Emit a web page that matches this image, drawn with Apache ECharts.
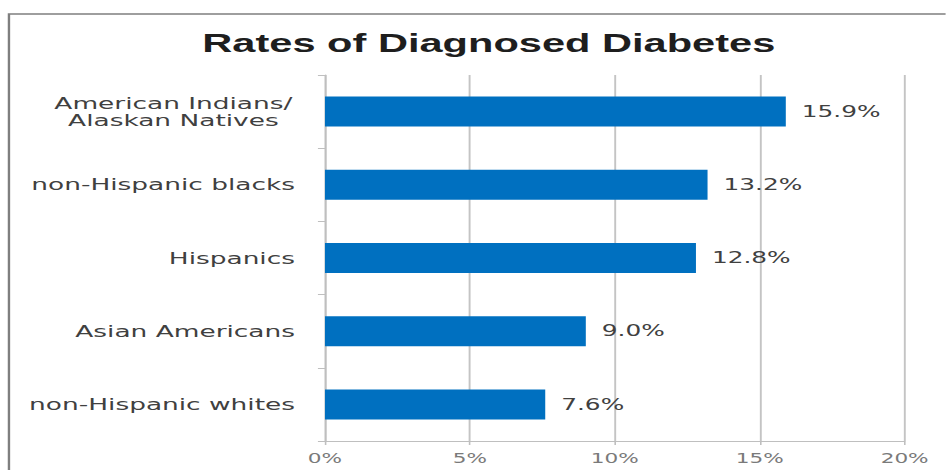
<!DOCTYPE html>
<html>
<head>
<meta charset="utf-8">
<script src="https://cdn.jsdelivr.net/npm/echarts@6/dist/echarts.min.js"></script>
<style>
  html, body { margin: 0; padding: 0; background: #ffffff; overflow: hidden; }
  #wrap { width: 946px; height: 470px; overflow: hidden; position: relative; }
  #chart { width: 591.25px; height: 470px; transform: scaleX(1.6); transform-origin: 0 0; }
</style>
</head>
<body>
<div id="wrap"><div id="chart"></div></div>
<script>
const titleText = 'Rates of Diagnosed Diabetes';
const categories = ['American Indians/\nAlaskan Natives', 'non-Hispanic blacks', 'Hispanics', 'Asian Americans', 'non-Hispanic whites'];
const rates = [15.9, 13.2, 12.8, 9.0, 7.6];
const xMin = 0, xMax = 20, xInterval = 5;

const chart = echarts.init(document.getElementById('chart'), null, { renderer: 'svg' });
chart.setOption({
  backgroundColor: '#ffffff',
  animation: false,
  title: {
    text: titleText,
    left: 300.5,
    textAlign: 'center',
    top: 25,
    textStyle: { fontFamily: 'Liberation Sans', fontWeight: 'bold', fontSize: 26, color: '#1e1e1e' }
  },
  graphic: [{
    type: 'rect',
    shape: { x: 5.6, y: 14, width: 1000, height: 1000 },
    style: { fill: 'none', stroke: '#7f7f7f', lineWidth: 1.5 },
    silent: true
  }],
  grid: { left: 203.1, right: 25.6, top: 75, bottom: 29, containLabel: false },
  xAxis: {
    type: 'value',
    min: xMin, max: xMax, interval: xInterval,
    axisLine: { show: true, lineStyle: { color: '#bfbfbf', width: 1 } },
    axisTick: { show: true, length: 4, lineStyle: { color: '#bfbfbf' } },
    splitLine: { show: true, lineStyle: { color: '#c4c4c4', width: 1.2 } },
    axisLabel: {
      formatter: v => v + '%',
      fontFamily: 'DejaVu Sans', fontSize: 13.5, color: '#7a7a7a', margin: 10
    }
  },
  yAxis: {
    type: 'category',
    data: categories,
    inverse: true,
    axisLine: { show: true, lineStyle: { color: '#bfbfbf', width: 1 } },
    axisTick: { show: true, length: 4.4, lineStyle: { color: '#bfbfbf' } },
    axisLabel: {
      margin: 18.75,
      fontFamily: 'DejaVu Sans', fontSize: 16.5, color: '#404040', lineHeight: 17,
      formatter: function (v) {
        if (v.indexOf('\n') < 0) return v;
        return v.split('\n').map(s => '{c|' + s + '}').join('\n');
      },
      rich: {
        c: { width: 152, align: 'center', fontFamily: 'DejaVu Sans', fontSize: 16.5, color: '#404040', lineHeight: 17 }
      }
    }
  },
  series: [{
    type: 'bar',
    data: rates,
    barWidth: 30,
    itemStyle: { color: '#0070C0' },
    label: {
      show: true, position: 'right', distance: 10,
      formatter: p => p.value.toFixed(1) + '%',
      fontFamily: 'DejaVu Sans', fontSize: 15.5, color: '#404040'
    }
  }]
});
</script>
</body>
</html>
